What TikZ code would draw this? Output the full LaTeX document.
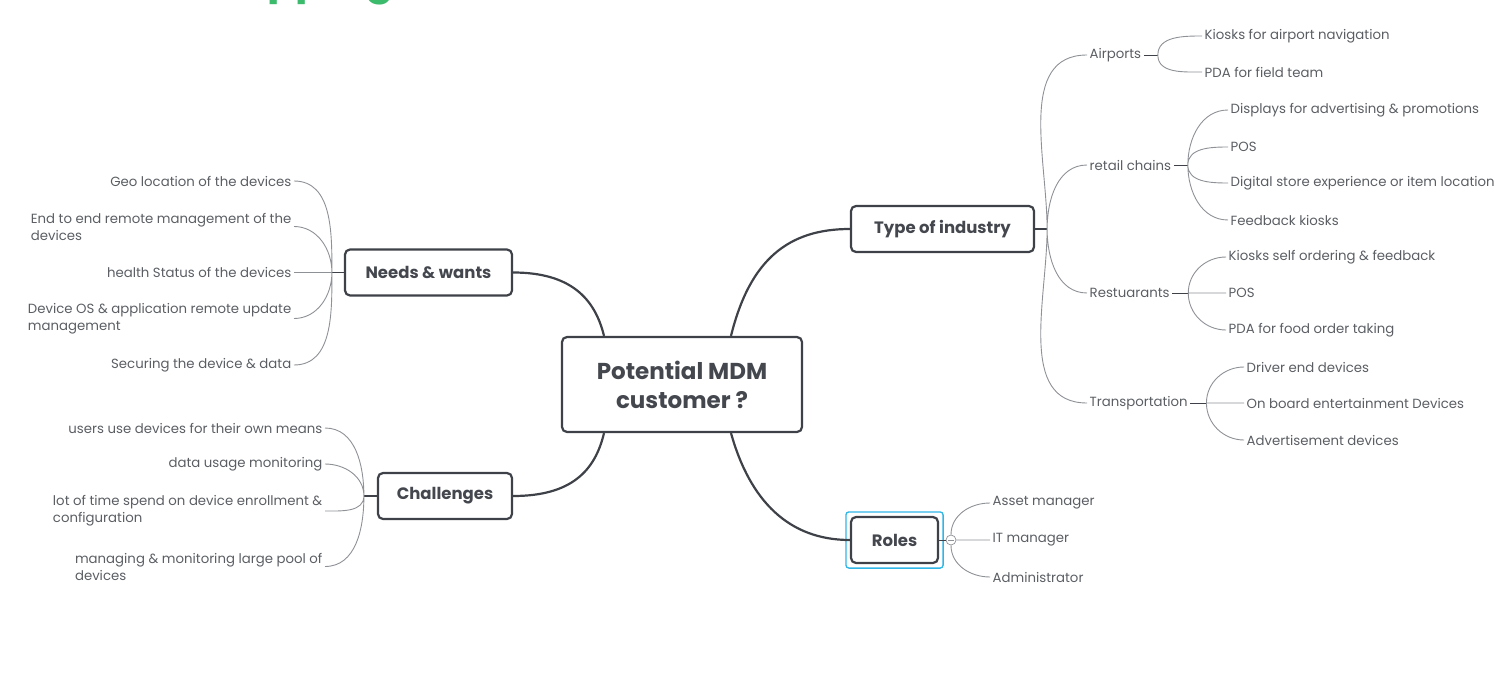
\documentclass[tikz,border=0pt]{standalone}
\usepackage{fontspec}
\setmainfont{Poppins}
\usepackage{tikz}
\usetikzlibrary{positioning}

\definecolor{linec}{HTML}{3E4248}
\definecolor{twigc}{HTML}{8E9196}
\definecolor{boxtext}{HTML}{44484E}
\definecolor{leaftext}{HTML}{5A5E63}
\definecolor{selblue}{HTML}{2FB5E6}
\definecolor{titlegreen}{HTML}{3DBB6C}

\tikzset{
  topic/.style={draw=linec, line width=2.2pt, rounded corners=5pt, fill=white,
    text=boxtext, font=\bfseries\fontsize{16.5}{20}\selectfont,
    minimum height=46pt, inner sep=0pt},
  leaf/.style={text=leaftext, font=\fontsize{13.3}{17}\selectfont,
    inner sep=2.5pt, align=left},
  branch/.style={draw=linec, line width=2.2pt},
  stub/.style={draw=linec, line width=1.3pt},
  twig/.style={draw=twigc, line width=0.9pt},
}

\begin{document}
\begin{tikzpicture}[x=1pt,y=-1pt]
\useasboundingbox (0,0) rectangle (1500,677);

% heading, cut off at the top edge
\node[anchor=base west, inner sep=0pt, text=titlegreen,
  font=\bfseries\fontsize{42}{42}\selectfont] (title) at (200,-6) {Mapping};

% centre and main topics
\node[topic, minimum width=240pt, minimum height=95pt, align=center,
  font=\bfseries\fontsize{23}{29}\selectfont] (mdm) at (682,384.5) {Potential MDM\\customer ?};
\node[topic, minimum width=167pt] (needs) at (428.5,272.5) {Needs \& wants};
\node[topic, minimum width=134pt] (chall) at (445,496) {Challenges};
\node[topic, minimum width=183pt] (industry) at (942.5,229) {Type of industry};
\node[topic, minimum width=87pt] (roles) at (894.5,540) {Roles};
\draw[selblue, line width=1.3pt, rounded corners=3pt]
  ([shift={(-4pt,-4pt)}]roles.south west) rectangle ([shift={(4pt,4pt)}]roles.north east);

\draw[branch] (needs.east) .. controls +(58,0) and +(-9,-37) .. ([xshift=-78pt]mdm.north);
\draw[branch] ([xshift=49pt]mdm.north) .. controls +(19,-77) and +(-61,0) .. (industry.west);
\draw[branch] ([xshift=-78pt]mdm.south) .. controls +(-9,38) and +(58,0) .. (chall.east);
\draw[branch] ([xshift=49pt]mdm.south) .. controls +(19,68) and +(-61,0) .. (roles.west);

% needs & wants
\coordinate (jn) at ([xshift=-12pt]needs.west);
\draw[stub] (needs.west) -- (jn);
\node[leaf, anchor=east] (geo) at (294,181) {Geo location of the devices};
\node[leaf, anchor=east] (e2e) at (294,226.5) {End to end remote management of the\\devices};
\node[leaf, anchor=east] (health) at (294,272.5) {health Status of the devices};
\node[leaf, anchor=east] (devos) at (294,318.5) {Device OS \& application remote update\\management};
\node[leaf, anchor=east] (secure) at (294,365) {Securing the device \& data};
\draw[twig] (jn) to[out=90,in=0] (geo.east)
            (jn) to[out=90,in=0] (e2e.east)
            (jn) -- (health.east)
            (jn) to[out=-90,in=0] (devos.east)
            (jn) to[out=-90,in=0] (secure.east);

% challenges
\coordinate (jc) at ([xshift=-13pt]chall.west);
\draw[stub] (chall.west) -- (jc);
\node[leaf, anchor=east] (ownmeans) at (325,428) {users use devices for their own means};
\node[leaf, anchor=east] (datausage) at (325,464) {data usage monitoring};
\node[leaf, anchor=east] (enroll) at (325,511) {lot of time spend on device enrollment \&\\configuration};
\node[leaf, anchor=east] (largepool) at (325,566.5) {managing \& monitoring large pool of\\devices};
\draw[twig] (jc) to[out=90,in=0] (ownmeans.east)
            (jc) to[out=90,in=0] (datausage.east)
            (jc) to[out=-90,in=0] (enroll.east)
            (jc) to[out=-90,in=0] (largepool.east);

% type of industry
\coordinate (jt) at ([xshift=12pt]industry.east);
\draw[stub] (industry.east) -- (jt);
\node[leaf, anchor=west] (airports) at (1087,55) {Airports};
\node[leaf, anchor=west] (retail) at (1087,165) {retail chains};
\node[leaf, anchor=west] (restaurants) at (1087,293) {Restuarants};
\node[leaf, anchor=west] (transport) at (1087,403) {Transportation};
\draw[twig] (jt) to[out=90,in=180] (airports.west)
            (jt) to[out=90,in=180] (retail.west)
            (jt) to[out=-90,in=180] (restaurants.west)
            (jt) to[out=-90,in=180] (transport.west);

\coordinate (ja) at ([xshift=14pt]airports.east);
\draw[stub, line width=0.9pt] (airports.east) -- (ja);
\node[leaf, anchor=west] (navkiosk) at (1202,36) {Kiosks for airport navigation};
\node[leaf, anchor=west] (fieldpda) at (1202,72) {PDA for field team};
\draw[twig] (ja) to[out=90,in=180] (navkiosk.west)
            (ja) to[out=-90,in=180] (fieldpda.west);

\coordinate (jr) at ([xshift=14pt]retail.east);
\draw[stub, line width=0.9pt] (retail.east) -- (jr);
\node[leaf, anchor=west] (displays) at (1228,110) {Displays for advertising \& promotions};
\node[leaf, anchor=west] (retailpos) at (1228,147) {POS};
\node[leaf, anchor=west] (digistore) at (1228,183) {Digital store experience or item location};
\node[leaf, anchor=west] (feedback) at (1228,220) {Feedback kiosks};
\draw[twig] (jr) to[out=90,in=180] (displays.west)
            (jr) to[out=90,in=180] (retailpos.west)
            (jr) to[out=-90,in=180] (digistore.west)
            (jr) to[out=-90,in=180] (feedback.west);

\coordinate (js) at ([xshift=16pt]restaurants.east);
\draw[stub, line width=0.9pt] (restaurants.east) -- (js);
\node[leaf, anchor=west] (selforder) at (1226,257) {Kiosks self ordering \& feedback};
\node[leaf, anchor=west] (restpos) at (1226,293) {POS};
\node[leaf, anchor=west] (foodpda) at (1226,330) {PDA for food order taking};
\draw[twig] (js) to[out=90,in=180] (selforder.west)
            (js) -- (restpos.west)
            (js) to[out=-90,in=180] (foodpda.west);

\coordinate (jp) at ([xshift=16pt]transport.east);
\draw[stub, line width=0.9pt] (transport.east) -- (jp);
\node[leaf, anchor=west] (driver) at (1244,367) {Driver end devices};
\node[leaf, anchor=west] (onboard) at (1244,403) {On board entertainment Devices};
\node[leaf, anchor=west] (advert) at (1244,440) {Advertisement devices};
\draw[twig] (jp) to[out=90,in=180] (driver.west)
            (jp) -- (onboard.west)
            (jp) to[out=-90,in=180] (advert.west);

% roles
\node[circle, draw=twigc, line width=0.7pt, fill=white, minimum size=10pt, inner sep=0pt] (toggle) at (951,540) {};
\draw[twigc, line width=0.7pt] ([xshift=-3pt]toggle.center) -- ([xshift=3pt]toggle.center);
\draw[stub, line width=1pt] (roles.east) -- (toggle.west);
\node[leaf, anchor=west] (asset) at (990,503) {Asset manager};
\node[leaf, anchor=west] (itmgr) at (990,540) {IT manager};
\node[leaf, anchor=west] (admin) at (990,577) {Administrator};
\draw[twig] (toggle.north) to[out=90,in=180] (asset.west)
            (toggle.east) -- (itmgr.west)
            (toggle.south) to[out=-90,in=180] (admin.west);
\end{tikzpicture}
\end{document}
